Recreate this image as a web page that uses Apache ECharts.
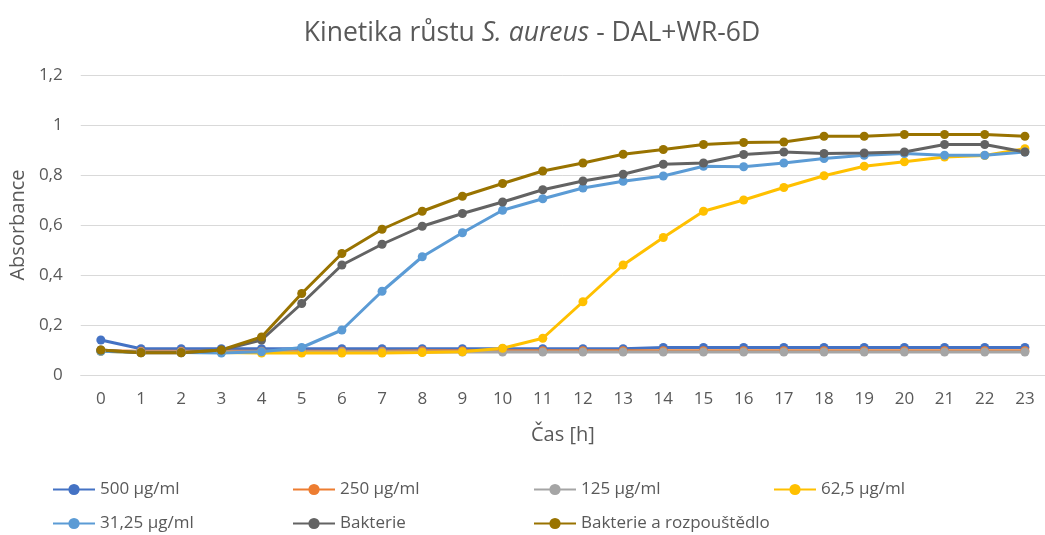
<!DOCTYPE html>
<html>
<head>
<meta charset="utf-8">
<style>
  html, body { margin: 0; padding: 0; background: #ffffff; }
  #chart { width: 1045px; height: 535px; }
</style>
<script src="https://cdn.jsdelivr.net/npm/echarts@6/dist/echarts.min.js"></script>
</head>
<body>
<div id="chart"></div>
<script>
// Time points [h]
const hours = ['0','1','2','3','4','5','6','7','8','9','10','11','12','13','14','15','16','17','18','19','20','21','22','23'];

// Absorbance per condition
const c500 = [0.14,0.105,0.105,0.105,0.105,0.105,0.105,0.105,0.105,0.105,0.105,0.105,0.105,0.105,0.11,0.11,0.11,0.11,0.11,0.11,0.11,0.11,0.11,0.11];
const c250 = [0.097,0.095,0.095,0.095,0.095,0.095,0.095,0.095,0.097,0.097,0.097,0.097,0.097,0.097,0.097,0.097,0.097,0.097,0.097,0.097,0.097,0.097,0.097,0.097];
const c125 = [0.095,0.092,0.092,0.092,0.092,0.092,0.092,0.092,0.092,0.092,0.092,0.092,0.092,0.092,0.092,0.092,0.092,0.092,0.092,0.092,0.092,0.092,0.092,0.092];
const c62 = [0.095,0.09,0.09,0.09,0.088,0.088,0.088,0.088,0.09,0.093,0.107,0.147,0.293,0.44,0.55,0.655,0.70,0.75,0.797,0.835,0.853,0.872,0.878,0.905];
const c31 = [0.095,0.09,0.09,0.088,0.093,0.11,0.18,0.335,0.473,0.569,0.659,0.705,0.748,0.775,0.796,0.835,0.833,0.848,0.866,0.879,0.886,0.879,0.879,0.892];
const bact = [0.10,0.089,0.089,0.10,0.14,0.286,0.44,0.523,0.595,0.646,0.692,0.741,0.776,0.803,0.843,0.848,0.882,0.892,0.886,0.888,0.892,0.922,0.922,0.892];
const bactSolv = [0.10,0.089,0.089,0.10,0.152,0.326,0.486,0.583,0.655,0.715,0.766,0.816,0.848,0.883,0.902,0.922,0.93,0.932,0.955,0.955,0.962,0.962,0.962,0.955];

// Y-axis ticks
const yMin = 0, yMax = 1.2, yStep = 0.2;

const seriesDefs = [
  { name: '500 µg/ml', data: c500, color: '#4472C4' },
  { name: '250 µg/ml', data: c250, color: '#ED7D31' },
  { name: '125 µg/ml', data: c125, color: '#A5A5A5' },
  { name: '62,5 µg/ml', data: c62, color: '#FFC000' },
  { name: '31,25 µg/ml', data: c31, color: '#5B9BD5' },
  { name: 'Bakterie', data: bact, color: '#636363' },
  { name: 'Bakterie a rozpouštědlo', data: bactSolv, color: '#997300' }
];

// Legend cell positions (two rows, four columns)
const legendCells = [
  [47, 476], [287, 476], [528, 476], [768, 476],
  [47, 510], [287, 510], [528, 510]
];

const textColor = '#595959';
const fontFamily = '"Open Sans", "Noto Sans", sans-serif';

const chart = echarts.init(document.getElementById('chart'), null, { renderer: 'canvas' });

chart.setOption({
  backgroundColor: '#ffffff',
  animation: false,
  textStyle: { fontFamily: fontFamily },
  title: {
    text: '{a|Kinetika růstu }{b|S. aureus}{a| - DAL+WR-6D}',
    left: 527,
    textAlign: 'center',
    top: 15,
    textStyle: {
      fontWeight: 'normal',
      rich: {
        a: { fontSize: 26.5, color: textColor, fontWeight: 'normal', fontFamily: fontFamily },
        b: { fontSize: 26.5, color: textColor, fontWeight: 'normal', fontStyle: 'italic', fontFamily: fontFamily }
      }
    }
  },
  legend: seriesDefs.map((s, i) => ({
    data: [s.name],
    left: legendCells[i][0],
    top: legendCells[i][1],
    itemWidth: 42,
    itemHeight: 14,
    itemGap: 0,
    textStyle: { fontSize: 17, color: textColor, fontFamily: fontFamily }
  })),
  grid: { left: 80, right: -5, top: 75, bottom: 160, containLabel: false },
  xAxis: {
    type: 'category',
    data: hours,
    boundaryGap: true,
    name: 'Čas [h]',
    nameLocation: 'middle',
    nameGap: 50,
    nameTextStyle: { fontSize: 20, color: textColor },
    axisLine: { show: true, lineStyle: { color: '#D9D9D9', width: 1 } },
    axisTick: { show: false },
    axisLabel: { color: textColor, fontSize: 17, margin: 16 },
    splitLine: { show: false }
  },
  yAxis: {
    type: 'value',
    min: yMin,
    max: yMax,
    interval: yStep,
    name: 'Absorbance',
    nameLocation: 'middle',
    nameGap: 50,
    nameRotate: 90,
    nameTextStyle: { fontSize: 20, color: textColor },
    axisLine: { show: false },
    axisTick: { show: false },
    axisLabel: {
      color: textColor,
      fontSize: 17,
      margin: 18,
      formatter: v => String(+v.toFixed(1)).replace('.', ',')
    },
    splitLine: { lineStyle: { color: '#D9D9D9', width: 1 } }
  },
  series: seriesDefs.map(s => ({
    name: s.name,
    type: 'line',
    data: s.data,
    symbol: 'circle',
    symbolSize: 9,
    showSymbol: true,
    lineStyle: { width: 3, color: s.color },
    itemStyle: { color: s.color },
    emphasis: { disabled: true }
  }))
});
</script>
</body>
</html>
